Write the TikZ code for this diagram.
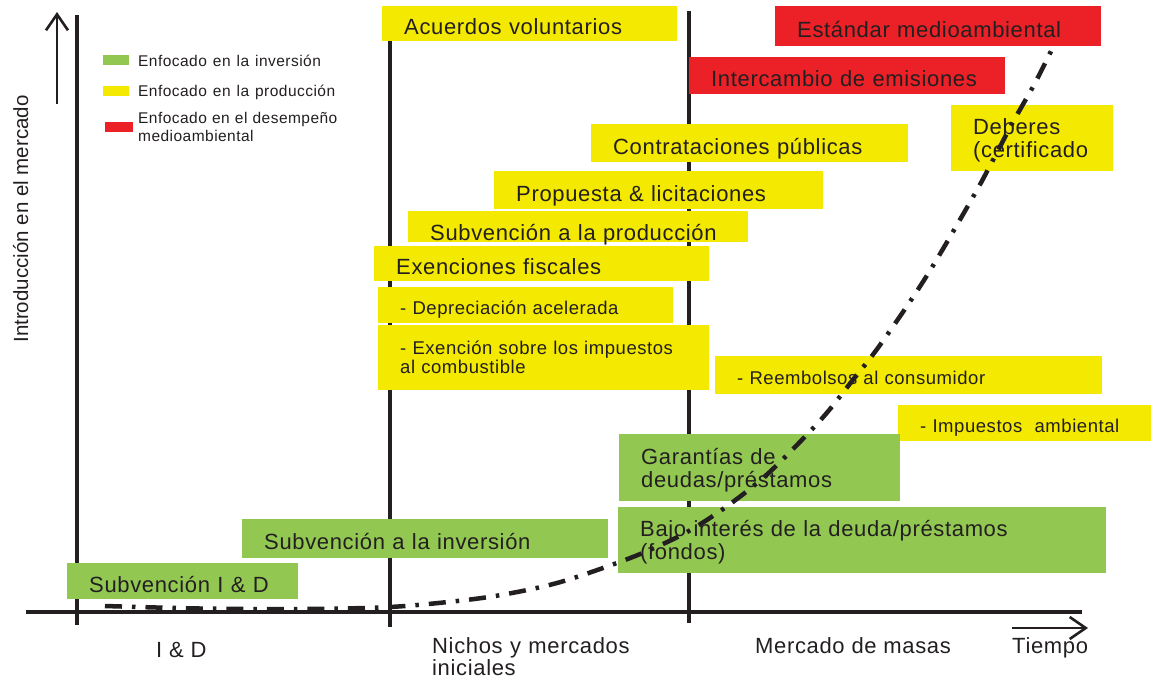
\documentclass[tikz,border=0pt]{standalone}
\usepackage{fontspec}
\setmainfont{Liberation Sans}[LetterSpace=3]
\newfontfamily\ylabfont{Liberation Sans}
\newcommand\legspacing{\spaceskip=6pt plus 1pt\relax}
\usetikzlibrary{arrows.meta,positioning}
\definecolor{invgreen}{RGB}{146,200,82}
\definecolor{prodyellow}{RGB}{244,233,0}
\definecolor{envred}{RGB}{236,32,39}
\definecolor{ink}{RGB}{35,31,32}
\tikzset{
basebox/.style={anchor=north west,inner xsep=22pt,inner ysep=0pt,align=left,text=ink,text height=22pt,text depth=0pt,font=\fontsize{22}{23}\selectfont},
gbox/.style={basebox,fill=invgreen},
ybox/.style={basebox,fill=prodyellow},
rbox/.style={basebox,fill=envred},
small/.style={text height=18pt,font=\fontsize{18.5}{19}\selectfont},
twoline/.style={text height=14pt,text depth=21pt},
axis/.style={line width=3.2pt,draw=ink},
axarrow/.style={line width=2.6pt,draw=ink,-{Straight Barb[length=16pt,width=22pt]}},
trend/.style={line width=4.5pt,draw=ink,dash pattern=on 17pt off 10pt on 3.5pt off 10pt},
swatch/.style={minimum width=26pt,minimum height=10pt,inner sep=0pt},
legtext/.style={anchor=base west,inner sep=0pt,text=ink,font=\fontsize{15.5}{18.4}\selectfont\legspacing},
axlabel/.style={anchor=base west,inner sep=0pt,text=ink,font=\fontsize{22}{22}\selectfont}
}
\begin{document}
\begin{tikzpicture}[x=1pt,y=-1pt]
\useasboundingbox (0,0) rectangle (1151,681);
\coordinate (t0) at (26,612);
\coordinate (t1) at (1082,612);
\coordinate (l0) at (77,15);
\coordinate (l1) at (77,625);
\coordinate (m0) at (390,12);
\coordinate (m1) at (390,627);
\coordinate (r0) at (689,11);
\coordinate (r1) at (689,623);
\draw[axis](t0)--(t1);
\draw[axis](l0)--(l1);
\draw[axis](m0)--(m1);
\draw[axis](r0)--(r1);
\coordinate (ybot) at (57,104);
\coordinate (ytop) at (57,12);
\draw[axarrow](ybot)--(ytop);
\coordinate (tbeg) at (1012,628);
\coordinate (tend) at (1088,628);
\draw[axarrow](tbeg)--(tend);
\node[rotate=90,anchor=base,inner sep=0pt,text=ink,font=\ylabfont\fontsize{20.5}{20.5}\selectfont] (ylab) at (28,219) {Introducción en el mercado};
\node[swatch,fill=invgreen] (swinv) at (116,60) {};
\node[swatch,fill=prodyellow] (swprod) at (116,91) {};
\node[swatch,fill=envred,minimum width=28pt] (swenv) at (119,127) {};
\node[legtext] (leginv) at (138,66) {Enfocado en la inversión};
\node[legtext] (legprod) at (138,96.5) {Enfocado en la producción};
\node[legtext,text width=250pt] (legenv) at (138,123.3) {Enfocado en el desempeño\\medioambiental};
\node[ybox,text width=251pt,minimum height=35pt] (acuerdos) at (382,6) {Acuerdos voluntarios};
\node[rbox,text width=282pt,minimum height=40pt] (estandar) at (775,6) {Estándar medioambiental};
\node[rbox,text width=272pt,minimum height=37pt] (intercambio) at (689,57) {Intercambio de emisiones};
\node[ybox,text width=273pt,minimum height=38pt] (contrat) at (591,124) {Contrataciones públicas};
\node[ybox,twoline,text width=118pt,minimum height=66pt] (deberes) at (951,105) {Deberes\\(certificado};
\node[ybox,text width=285pt,minimum height=38pt] (propuesta) at (494,171) {Propuesta \& licitaciones};
\node[ybox,text height=27pt,text width=296pt,minimum height=31pt] (subprod) at (408,211) {Subvención a la producción};
\node[ybox,text width=291pt,minimum height=35pt] (exenciones) at (374,246) {Exenciones fiscales};
\node[ybox,small,text width=251pt,minimum height=36pt] (deprec) at (378,287) {- Depreciación acelerada};
\node[ybox,small,twoline,text width=287pt,minimum height=65pt] (exencomb) at (378,325) {- Exención sobre los impuestos\\al combustible};
\node[ybox,small,text width=343pt,minimum height=38pt] (reembolsos) at (715,356) {- Reembolsos al consumidor};
\node[ybox,small,text width=209pt,minimum height=36pt] (impuestos) at (898,405) {- Impuestos\ \ ambiental};
\node[gbox,twoline,text width=237pt,minimum height=67pt] (garantias) at (619,434) {Garantías de\\deudas/préstamos};
\node[gbox,twoline,text width=444pt,minimum height=66pt] (bajoint) at (618,507) {Bajo interés de la deuda/préstamos\\(fondos)};
\node[gbox,text width=322pt,minimum height=39pt] (subinv) at (242,519) {Subvención a la inversión};
\node[gbox,text width=187pt,minimum height=36pt] (subid) at (67,563) {Subvención I \& D};
\draw[trend] plot[smooth,tension=.55] coordinates {(105,606) (200,608.5) (300,609) (390,607) (466,600) (512,593) (557,583) (603,568) (645,552) (687,532) (726,507) (763,478) (794,448) (825,415) (852,381) (880,345) (926,277) (973,197) (993,160) (1013,122) (1035,83) (1055,43)};
\node[axlabel] (idlab) at (156,657) {I \& D};
\node[axlabel,text width=250pt] (nichos) at (432,653) {Nichos y mercados\\iniciales};
\node[axlabel] (masas) at (755,653) {Mercado de masas};
\node[axlabel] (tiempo) at (1012,653) {Tiempo};
\end{tikzpicture}
\end{document}
